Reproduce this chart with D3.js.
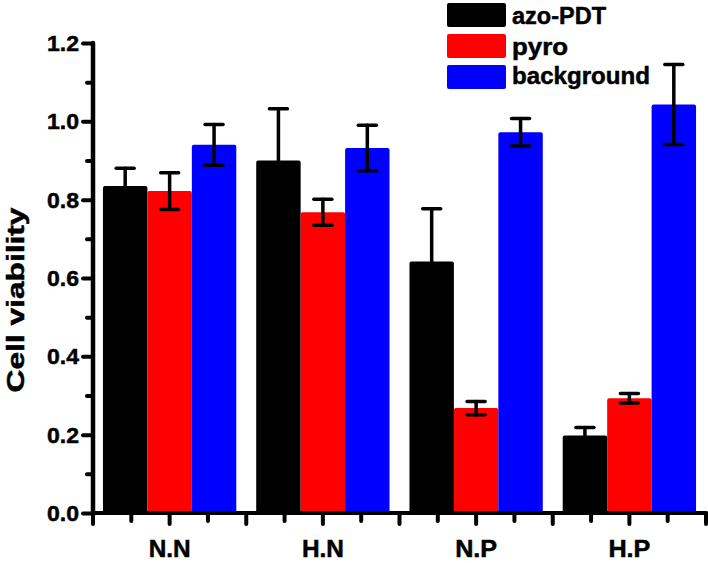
<!DOCTYPE html>
<html><head><meta charset="utf-8">
<script src="https://cdn.jsdelivr.net/npm/d3@7"></script>
<style>body{margin:0;background:#fff}svg{display:block}text{font-family:"Liberation Sans",Arial,sans-serif;font-weight:bold;stroke:#000;stroke-width:0.5px}</style>
</head><body><svg id="c" width="708" height="563"></svg>
<script>
const categories = ["N.N","H.N","N.P","H.P"];
const series = ["azo-PDT","pyro","background"];
const colors = ["#000000","#ff0000","#0000ff"];
const azoPDT = [0.835,0.900,0.642,0.198];
const azoPDTErr = [0.045,0.132,0.135,0.020];
const pyro = [0.822,0.768,0.268,0.293];
const pyroErr = [0.047,0.033,0.017,0.012];
const background = [0.940,0.932,0.972,1.043];
const backgroundErr = [0.052,0.058,0.035,0.102];
const yTicks = [0.0,0.2,0.4,0.6,0.8,1.0,1.2];
const yMinor = [0.1,0.3,0.5,0.7,0.9,1.1];

const values = [azoPDT,pyro,background];
const errs = [azoPDTErr,pyroErr,backgroundErr];
const svg = d3.select("#c");
const X0=93, X1=706, Y0=513, Y1=43;
const y = d3.scaleLinear().domain([0,1.2]).range([Y0,Y1]);
const x0 = d3.scaleBand().domain(categories).range([X0,X1]).paddingInner(0.13).paddingOuter(0.065);
const x1 = d3.scaleBand().domain(series).range([0,x0.bandwidth()]);
const xt = d3.scaleLinear().domain([0,16]).range([X0,X1]);

// bars
series.forEach((s,si)=>{
  svg.append("g").selectAll("rect").data(categories).join("rect")
    .attr("x",c=>x0(c)+x1(s))
    .attr("y",(c,i)=>y(values[si][i]))
    .attr("width",x1.bandwidth())
    .attr("height",(c,i)=>Y0-y(values[si][i]))
    .attr("rx",2).attr("fill",colors[si]);
});
// error bars
series.forEach((s,si)=>{
  const g = svg.append("g").attr("stroke","#000").attr("stroke-width",3.5).attr("stroke-linecap","round");
  categories.forEach((c,i)=>{
    const cx = x0(c)+x1(s)+x1.bandwidth()/2;
    const v = values[si][i], e = errs[si][i];
    g.append("line").attr("x1",cx).attr("x2",cx).attr("y1",y(v+e)).attr("y2",y(v-e));
    g.append("line").attr("x1",cx-9).attr("x2",cx+9).attr("y1",y(v+e)).attr("y2",y(v+e));
    g.append("line").attr("x1",cx-9).attr("x2",cx+9).attr("y1",y(v-e)).attr("y2",y(v-e));
  });
});

// y axis ticks (major + minor)
const ga = svg.append("g").attr("transform",`translate(${X0},0)`)
  .call(d3.axisLeft(y).tickValues(yTicks).tickFormat("").tickSize(10));
ga.select(".domain").remove();
ga.selectAll(".tick line").attr("stroke","#000").attr("stroke-width",4).attr("stroke-linecap","round");
const gm = svg.append("g").attr("transform",`translate(${X0},0)`)
  .call(d3.axisLeft(y).tickValues(yMinor).tickFormat("").tickSize(6));
gm.select(".domain").remove();
gm.selectAll(".tick line").attr("stroke","#000").attr("stroke-width",4).attr("stroke-linecap","round");
// y tick labels
svg.append("g").selectAll("text").data(yTicks).join("text")
  .attr("x",79).attr("y",d=>y(d)+8)
  .attr("text-anchor","end").style("font-size","22px").attr("fill","#000")
  .attr("textLength",32).attr("lengthAdjust","spacingAndGlyphs")
  .text(d3.format(".1f"));

// x axis ticks
const xticks = d3.range(0,17);
svg.append("g").selectAll("line").data(xticks).join("line")
  .attr("x1",d=>xt(d)).attr("x2",d=>xt(d))
  .attr("y1",Y0).attr("y2",d=>d%2===0?Y0+11:Y0+8)
  .attr("stroke","#000").attr("stroke-width",4).attr("stroke-linecap","round");
// axis lines
svg.append("line").attr("x1",X0).attr("x2",X0).attr("y1",Y1).attr("y2",Y0+2).attr("stroke","#000").attr("stroke-width",4.5).attr("stroke-linecap","round");
svg.append("line").attr("x1",X0).attr("x2",X1).attr("y1",Y0).attr("y2",Y0).attr("stroke","#000").attr("stroke-width",4).attr("stroke-linecap","round");

// x labels
svg.append("g").selectAll("text").data(categories).join("text")
  .attr("x",c=>x0(c)+x0.bandwidth()/2).attr("y",557)
  .attr("text-anchor","middle").style("font-size","24px").attr("fill","#000")
  .attr("textLength",42).attr("lengthAdjust","spacingAndGlyphs").text(c=>c);

// y label
svg.append("text").attr("transform","translate(24,300) rotate(-90)")
  .attr("text-anchor","middle").style("font-size","24px").attr("fill","#000")
  .attr("textLength",185).attr("lengthAdjust","spacingAndGlyphs").text("Cell viability");

// legend
const lg = svg.append("g");
const legLen = [94,56,138];
series.forEach((s,i)=>{
  const top = [3,34,65][i];
  lg.append("rect").attr("x",447).attr("y",top).attr("width",59).attr("height",24).attr("rx",2).attr("fill",colors[i]);
  lg.append("text").attr("x",512).attr("y",[24,55,84][i]).style("font-size","24px").attr("fill","#000")
    .attr("textLength",legLen[i]).attr("lengthAdjust","spacingAndGlyphs").text(s);
});
</script></body></html>
